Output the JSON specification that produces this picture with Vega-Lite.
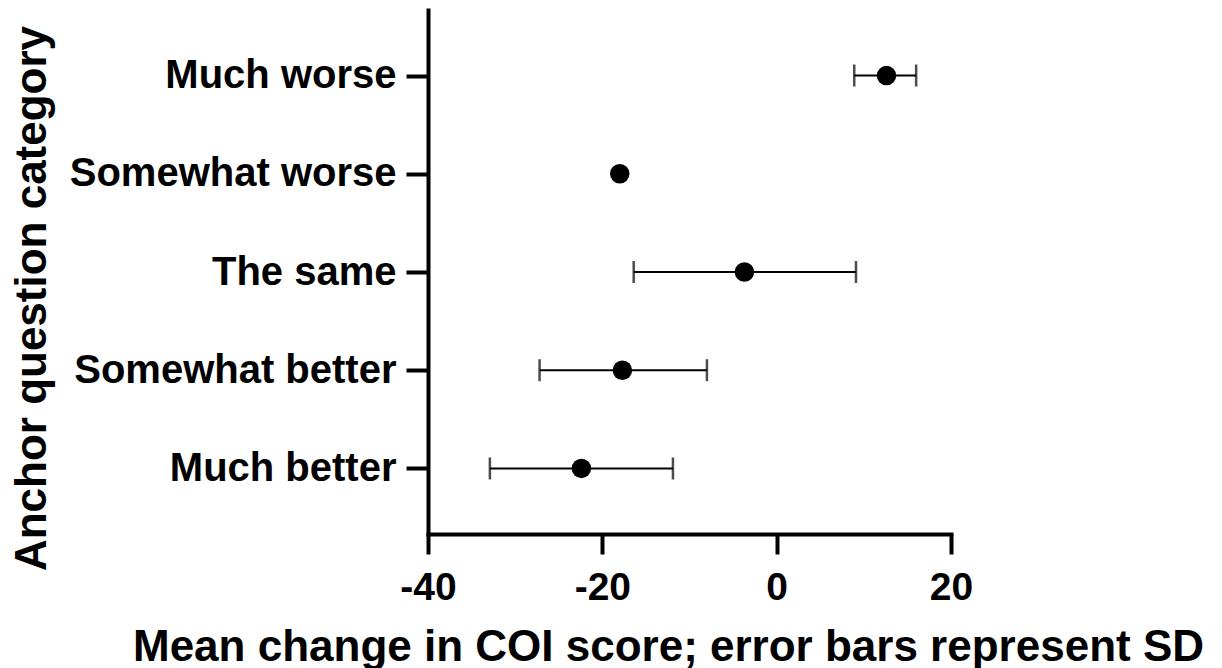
{
  "$schema": "https://vega.github.io/schema/vega-lite/v6.json",
  "autosize": "none",
  "width": 523,
  "height": 524,
  "padding": {"left": 428, "top": 10, "right": 271, "bottom": 134},
  "background": "white",
  "config": {
    "view": {"stroke": null},
    "font": "Liberation Sans"
  },
  "data": {
    "values": [
      {"category": "Much worse", "mean": 12.6, "lo": 8.9, "hi": 16.0},
      {"category": "Somewhat worse", "mean": -18.0, "lo": null, "hi": null},
      {"category": "The same", "mean": -3.7, "lo": -16.4, "hi": 9.1},
      {"category": "Somewhat better", "mean": -17.7, "lo": -27.2, "hi": -8.0},
      {"category": "Much better", "mean": -22.4, "lo": -32.9, "hi": -11.9}
    ]
  },
  "encoding": {
    "y": {
      "field": "category",
      "type": "nominal",
      "sort": ["Much worse", "Somewhat worse", "The same", "Somewhat better", "Much better"],
      "scale": {"type": "point", "padding": 0.667},
      "axis": {
        "title": "Anchor question category",
        "titleFont": "Liberation Sans",
        "titleFontWeight": "bold",
        "titleFontSize": 44,
        "titleColor": "black",
        "titleAngle": -90,
        "titleAlign": "center",
        "titleBaseline": "bottom",
        "titleX": -374,
        "titleY": 288,
        "labelFont": "Liberation Sans",
        "labelFontWeight": "bold",
        "labelFontSize": 40,
        "labelColor": "black",
        "labelPadding": 10,
        "labelLimit": 0,
        "domainColor": "black",
        "domainWidth": 4,
        "domainCap": "square",
        "tickColor": "black",
        "tickWidth": 4,
        "tickSize": 22,
        "grid": false
      }
    }
  },
  "layer": [
    {
      "transform": [{"filter": "datum.lo != null"}],
      "mark": {"type": "rule", "color": "black", "strokeWidth": 2.2},
      "encoding": {
        "x": {"field": "lo", "type": "quantitative"},
        "x2": {"field": "hi"}
      }
    },
    {
      "transform": [{"filter": "datum.lo != null"}],
      "mark": {"type": "tick", "color": "black", "thickness": 2.5, "size": 22, "orient": "vertical"},
      "encoding": {
        "x": {"field": "lo", "type": "quantitative"}
      }
    },
    {
      "transform": [{"filter": "datum.hi != null"}],
      "mark": {"type": "tick", "color": "black", "thickness": 2.5, "size": 22, "orient": "vertical"},
      "encoding": {
        "x": {"field": "hi", "type": "quantitative"}
      }
    },
    {
      "mark": {"type": "circle", "color": "black", "opacity": 1, "size": 380},
      "encoding": {
        "x": {
          "field": "mean",
          "type": "quantitative",
          "scale": {"domain": [-40, 20], "nice": false, "zero": false},
          "axis": {
            "title": "Mean change in COI score; error bars represent SD",
            "titleFont": "Liberation Sans",
            "titleFontWeight": "bold",
            "titleFontSize": 44,
            "titleColor": "black",
            "titleAlign": "center",
            "titleBaseline": "alphabetic",
            "titleX": 240,
            "titleY": 126,
            "values": [-40, -20, 0, 20],
            "labelExpr": "'' + datum.value",
            "labelFont": "Liberation Sans",
            "labelFontWeight": "bold",
            "labelFontSize": 39,
            "labelColor": "black",
            "labelPadding": 14,
            "labelFlush": false,
            "domainColor": "black",
            "domainWidth": 4,
            "domainCap": "square",
            "tickColor": "black",
            "tickWidth": 4,
            "tickSize": 20,
            "grid": false
          }
        }
      }
    }
  ]
}
